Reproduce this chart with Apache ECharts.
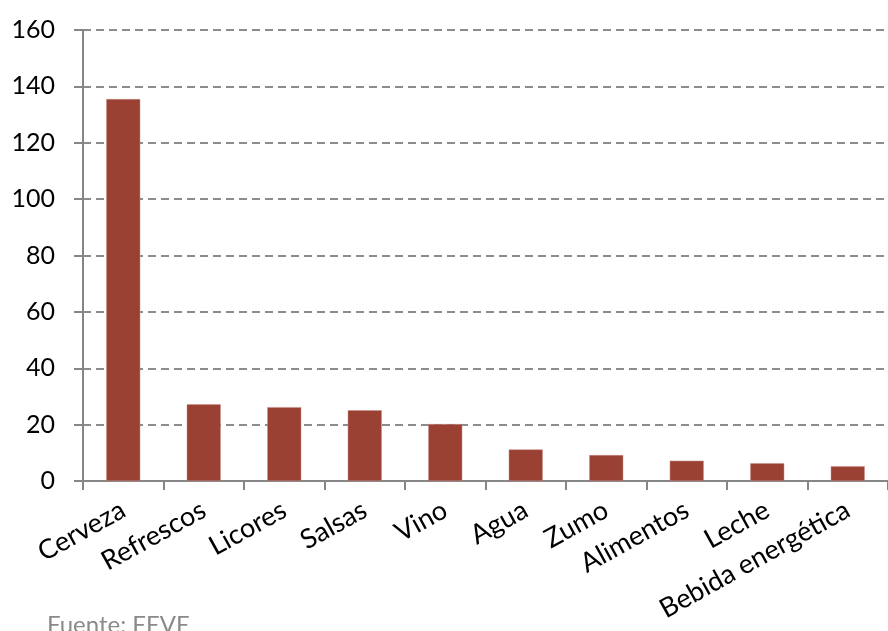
<!DOCTYPE html>
<html>
<head>
<meta charset="utf-8">
<script src="https://cdn.jsdelivr.net/npm/echarts@6/dist/echarts.min.js"></script>
<style>html,body{margin:0;padding:0;background:#fff;}#c{width:888px;height:631px;}</style>
</head>
<body>
<div id="c"></div>
<script>
const categories = ['Cerveza','Refrescos','Licores','Salsas','Vino','Agua','Zumo','Alimentos','Leche','Bebida energética'];
const values = [135.5, 27.2, 26.2, 25.1, 20.2, 11.2, 9.2, 7.2, 6.3, 5.2];
const yTicks = [0, 20, 40, 60, 80, 100, 120, 140, 160];
const source = 'Fuente: FEVE';

const chart = echarts.init(document.getElementById('c'), null, {renderer: 'canvas'});
chart.setOption({
  animation: false,
  backgroundColor: '#ffffff',
  grid: {left: 83, top: 30, width: 810, height: 451, containLabel: false},
  xAxis: {
    type: 'category',
    data: categories,
    axisLine: {lineStyle: {color: '#868686', width: 2}},
    axisTick: {show: true, length: 9, lineStyle: {color: '#868686', width: 2}},
    axisLabel: {rotate: 29, margin: 27, color: '#000', fontFamily: 'Lato', fontSize: 27, interval: 0}
  },
  yAxis: {
    type: 'value',
    min: yTicks[0], max: yTicks[yTicks.length - 1], interval: 20,
    axisLine: {show: true, lineStyle: {color: '#868686', width: 2}},
    axisTick: {show: true, length: 9, lineStyle: {color: '#868686', width: 2}},
    axisLabel: {margin: 28, color: '#000', fontFamily: 'Lato', fontSize: 25},
    splitLine: {show: true, lineStyle: {color: '#8c8c8c', width: 2, type: [8, 5]}}
  },
  series: [{
    type: 'bar',
    data: values,
    barWidth: 34,
    itemStyle: {color: '#9B4134', borderColor: '#c98f86', borderWidth: 0.5}
  }],
  graphic: [{
    type: 'text', left: 47, top: 613,
    style: {text: source, fill: '#8a8a8a', fontFamily: 'Lato', fontSize: 24}
  }]
});
</script>
</body>
</html>
